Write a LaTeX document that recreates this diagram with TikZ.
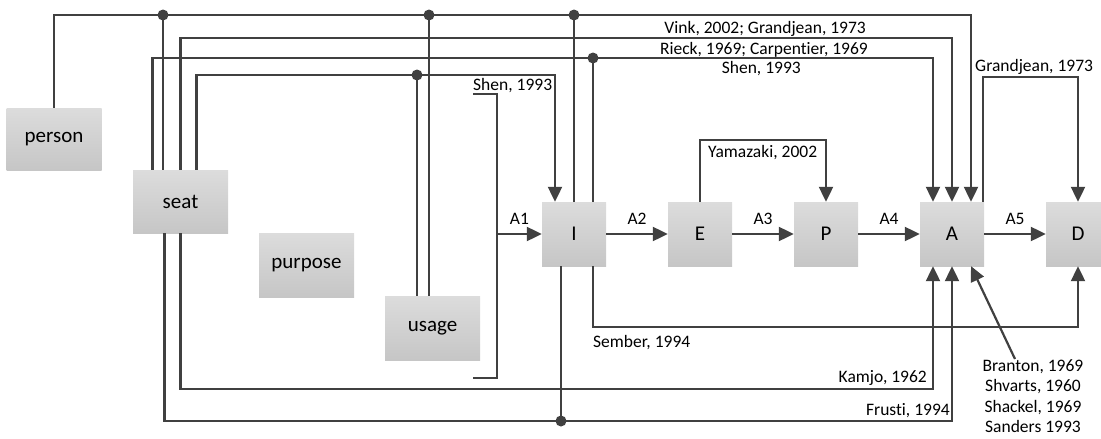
\documentclass[tikz,border=0pt]{standalone}
\usepackage{fontspec}
\setmainfont{Carlito}[Ligatures=CommonOff]
\usetikzlibrary{arrows.meta,calc}
\definecolor{wirecol}{HTML}{404040}
\definecolor{boxtop}{HTML}{DCDCDC}
\definecolor{boxbot}{HTML}{C6C6C6}
\tikzset{
  fmbox/.style={rectangle, top color=boxtop, bottom color=boxbot, minimum width=64pt, minimum height=64pt, inner sep=0pt, font=\fontsize{21}{25}\selectfont},
  fmwide/.style={fmbox, minimum width=95pt, minimum height=63pt},
  fmw/.style={draw=wirecol, line width=2.2pt},
  fmarr/.style={fmw, -{Triangle[length=15pt,width=14pt]}},
  fmdot/.style={circle, fill=wirecol, minimum size=11pt, inner sep=0pt},
  fmlab/.style={inner sep=0pt, font=\fontsize{17.5}{20.5}\selectfont}
}

\begin{document}
\begin{tikzpicture}[x=1pt, y=-1pt]
  \useasboundingbox (0,0) rectangle (1101,439);
  % boxes
  \node[fmwide, minimum height=62pt] (person) at (54,139) {person};
  \node[fmwide] (seat) at (180.5,201.5) {seat};
  \node[fmwide, minimum height=64pt] (purpose) at (306.5,265) {purpose};
  \node[fmwide, minimum height=64pt] (usage) at (432.5,328) {usage};
  \node[fmbox] (I) at (574,234) {I};
  \node[fmbox] (E) at (700,234) {E};
  \node[fmbox] (P) at (826,234) {P};
  \node[fmbox] (A) at (952,234) {A};
  \node[fmbox] (D) at (1078,234) {D};
  % routing levels
  \coordinate (r1) at (0,15);
  \coordinate (r2) at (0,38);
  \coordinate (r3) at (0,58);
  \coordinate (r4) at (0,75);
  \coordinate (r5) at (0,389);
  \coordinate (r6) at (0,421);
  \coordinate (r7) at (0,327);
  \coordinate (r8) at (0,140);
  \coordinate (r9) at (0,77);
  % ports
  \coordinate (sT1) at ([xshift=-28pt]seat.north);
  \coordinate (sT4) at ([xshift=16pt]seat.north);
  \coordinate (sB1) at ([xshift=-16pt]seat.south);
  \coordinate (iT1) at ([xshift=-19pt]I.north);
  \coordinate (iB2) at ([xshift=19pt]I.south);
  \coordinate (aT1) at ([xshift=-19pt]A.north);
  \coordinate (aT3) at ([xshift=19pt]A.north);
  \coordinate (aT4) at ([xshift=31pt]A.north);
  \coordinate (aB1) at ([xshift=-19pt]A.south);
  \coordinate (aB3) at ([xshift=19pt]A.south);
  % junctions
  \node[fmdot] (j1) at (163,15) {};
  \node[fmdot] (j2) at (429,15) {};
  \node[fmdot] (j3) at (I.north |- r1) {};
  \node[fmdot] (j4) at (593,58) {};
  \node[fmdot] (j5) at (417,75) {};
  \node[fmdot] (j6) at (561,421) {};
  % bracket
  \coordinate (b1) at (473,94);
  \coordinate (b2) at (473,378);
  \coordinate (b3) at (497,234);
  % wires over the top
  \draw[fmarr] (person.north) -- (person.north |- r1) -| (aT3);
  \draw[fmarr] (seat.north) -- (seat.north |- r2) -| (A.north);
  \draw[fmarr] (sT1) -- (sT1 |- r3) -| (aT1);
  \draw[fmarr] (sT4) -- (sT4 |- r4) -| (iT1);
  \draw[fmw] (j1.center) -- (j1 |- seat.north);
  \draw[fmw] (j2.center) -- (j2 |- usage.north);
  \draw[fmw] (j3.center) -- (I.north);
  \draw[fmw] (j4.center) -- (j4 |- I.north);
  \draw[fmw] (j5.center) -- (j5 |- usage.north);
  \draw[fmarr] (E.north) -- (E.north |- r8) -| (P.north);
  \draw[fmarr] (aT4) -- (aT4 |- r9) -| (D.north);
  % wires below
  \draw[fmarr] (seat.south) -- (seat.south |- r5) -| (aB1);
  \draw[fmarr] (sB1) -- (sB1 |- r6) -| (A.south);
  \draw[fmw] (j6.center) -- (j6 |- I.south);
  \draw[fmarr] (iB2) -- (iB2 |- r7) -| (D.south);
  % chain
  \draw[fmw] (b1) -| (b3) |- (b2);
  \draw[fmarr] (b3) -- (I.west) node[fmlab, midway, above=8pt] {A1};
  \draw[fmarr] (I) -- (E) node[fmlab, midway, above=8pt] {A2};
  \draw[fmarr] (E) -- (P) node[fmlab, midway, above=8pt] {A3};
  \draw[fmarr] (P) -- (A) node[fmlab, midway, above=8pt] {A4};
  \draw[fmarr] (A) -- (D) node[fmlab, midway, above=8pt] {A5};
  % labels
  \node[fmlab, anchor=base east] (l1) at (866,34) {Vink, 2002; Grandjean, 1973};
  \node[fmlab, anchor=base east] (l2) at (868,54) {Rieck, 1969; Carpentier, 1969};
  \node[fmlab, anchor=base east] (l3) at (801,73) {Shen, 1993};
  \node[fmlab, anchor=base west] (l4) at (473,90) {Shen, 1993};
  \node[fmlab, anchor=base west] (l5) at (708,157) {Yamazaki, 2002};
  \node[fmlab, anchor=base west] (l6) at (975,71) {Grandjean, 1973};
  \node[fmlab, anchor=base west] (l7) at (593,347) {Sember, 1994};
  \node[fmlab, anchor=base east] (l8) at (927,382) {Kamjo, 1962};
  \node[fmlab, anchor=base east] (l9) at (950,415) {Frusti, 1994};
  \node[fmlab, anchor=north, align=center] (refs) at (1033,359) {Branton, 1969\\ Shvarts, 1960\\ Shackel, 1969\\ Sanders 1993};
  \draw[fmarr] ([xshift=-18pt]refs.north) -- (aB3);
\end{tikzpicture}
\end{document}
